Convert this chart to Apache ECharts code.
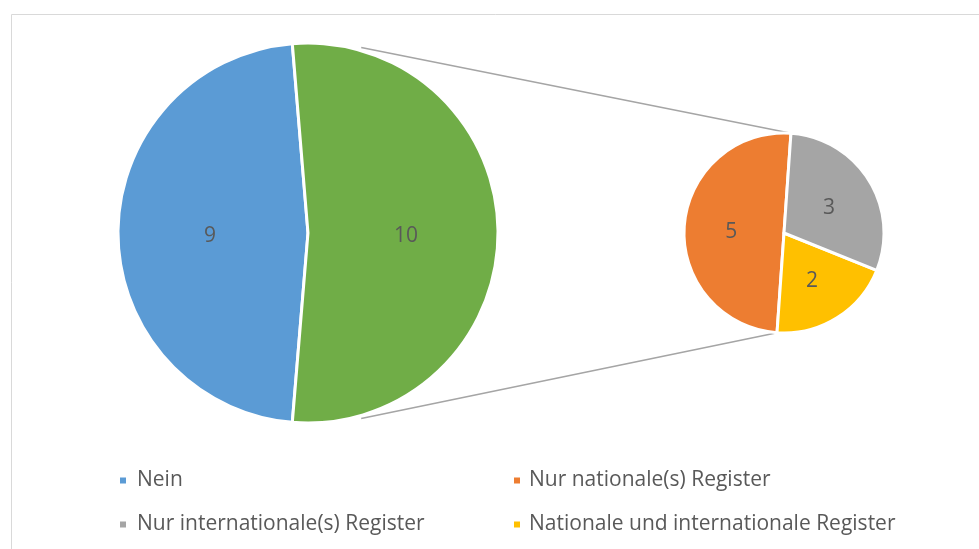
<!DOCTYPE html>
<html lang="de">
<head>
    <meta charset="UTF-8">
    <script src="https://cdn.jsdelivr.net/npm/echarts@6/dist/echarts.min.js"></script>
    <title>Register</title>
    <style>
        body { margin: 0; background: #fff; }
        #main { width: 979px; height: 549px; }
    </style>
</head>
<body>
    <div id="main"></div>
    <script>
        // Hauptkreis
        var mainNames = ['Nein', 'Sonstige'];
        var mainValues = [9, 10];
        // Sekundärkreis
        var subNames = ['Nur nationale(s) Register', 'Nationale und internationale Register', 'Nur internationale(s) Register'];
        var subValues = [5, 2, 3];
        var legendNames = ['Nein', 'Nur nationale(s) Register', 'Nur internationale(s) Register', 'Nationale und internationale Register'];

        var colors = {
            'Nein': '#5B9BD5',
            'Sonstige': '#70AD47',
            'Nur nationale(s) Register': '#ED7D31',
            'Nur internationale(s) Register': '#A5A5A5',
            'Nationale und internationale Register': '#FFC000'
        };

        var font = 'Open Sans, Noto Sans, sans-serif';
        var c1 = [308, 233], r1 = 190;
        var c2 = [784, 233], r2 = 100;

        var total = mainValues[0] + mainValues[1];
        // "Sonstige" liegt zentriert nach rechts
        var mainStart = 90 + (mainValues[1] / total * 360 - 180) / 2;
        var subStart = 86;

        function pt(c, r, deg) {
            var a = deg * Math.PI / 180;
            return [c[0] + r * Math.cos(a), c[1] - r * Math.sin(a)];
        }
        var subTotal = subValues.reduce(function (a, b) { return a + b; }, 0);
        var subEnd = subStart + subValues[0] / subTotal * 360;
        var t1 = pt(c1, r1 + 3, 74), t2 = pt(c2, r2, subStart);
        var b1 = pt(c1, r1 + 3, -74), b2 = pt(c2, r2, subEnd);

        function pieData(names, values) {
            return names.map(function (n, i) {
                return { name: n, value: values[i], itemStyle: { color: colors[n] } };
            });
        }

        function legendAt(name, left, top, gap) {
            return {
                data: [name],
                left: left,
                top: top,
                icon: 'rect',
                itemWidth: 8,
                itemHeight: 8,
                selectedMode: false,
                textStyle: { fontFamily: font, fontSize: 21, color: '#595959', padding: [0, 0, 0, gap] }
            };
        }

        var labelStyle = {
            position: 'inside', fontFamily: font, fontSize: 21, color: '#595959',
            formatter: '{c}', offset: [0, 3]
        };

        var myChart = echarts.init(document.getElementById('main'));
        var option = {
            animation: false,
            legend: [
                legendAt(legendNames[0], 113, 465, 5),
                legendAt(legendNames[1], 507, 465, 3),
                legendAt(legendNames[2], 113, 509, 5),
                legendAt(legendNames[3], 507, 509, 3)
            ],
            graphic: [
                {
                    type: 'rect', left: 9, top: 12, silent: true,
                    shape: { x: 0.5, y: 0.5, width: 1000, height: 600 },
                    style: { fill: 'none', stroke: '#d9d9d9', lineWidth: 1 }
                },
                {
                    type: 'line', silent: true, z: -1,
                    shape: { x1: t1[0], y1: t1[1], x2: t2[0], y2: t2[1] },
                    style: { stroke: '#a5a5a5', lineWidth: 1.5 }
                },
                {
                    type: 'line', silent: true, z: -1,
                    shape: { x1: b1[0], y1: b1[1], x2: b2[0], y2: b2[1] },
                    style: { stroke: '#a5a5a5', lineWidth: 1.5 }
                }
            ],
            series: [
                {
                    type: 'pie',
                    center: c1,
                    radius: r1,
                    clockwise: false,
                    startAngle: mainStart,
                    label: labelStyle,
                    labelLine: { show: false },
                    itemStyle: { borderColor: '#fff', borderWidth: 3 },
                    emphasis: { disabled: true },
                    data: pieData(mainNames, mainValues)
                },
                {
                    type: 'pie',
                    center: c2,
                    radius: r2,
                    clockwise: false,
                    startAngle: subStart,
                    label: labelStyle,
                    labelLine: { show: false },
                    itemStyle: { borderColor: '#fff', borderWidth: 3 },
                    emphasis: { disabled: true },
                    data: pieData(subNames, subValues)
                }
            ]
        };
        myChart.setOption(option);
    </script>
</body>
</html>
